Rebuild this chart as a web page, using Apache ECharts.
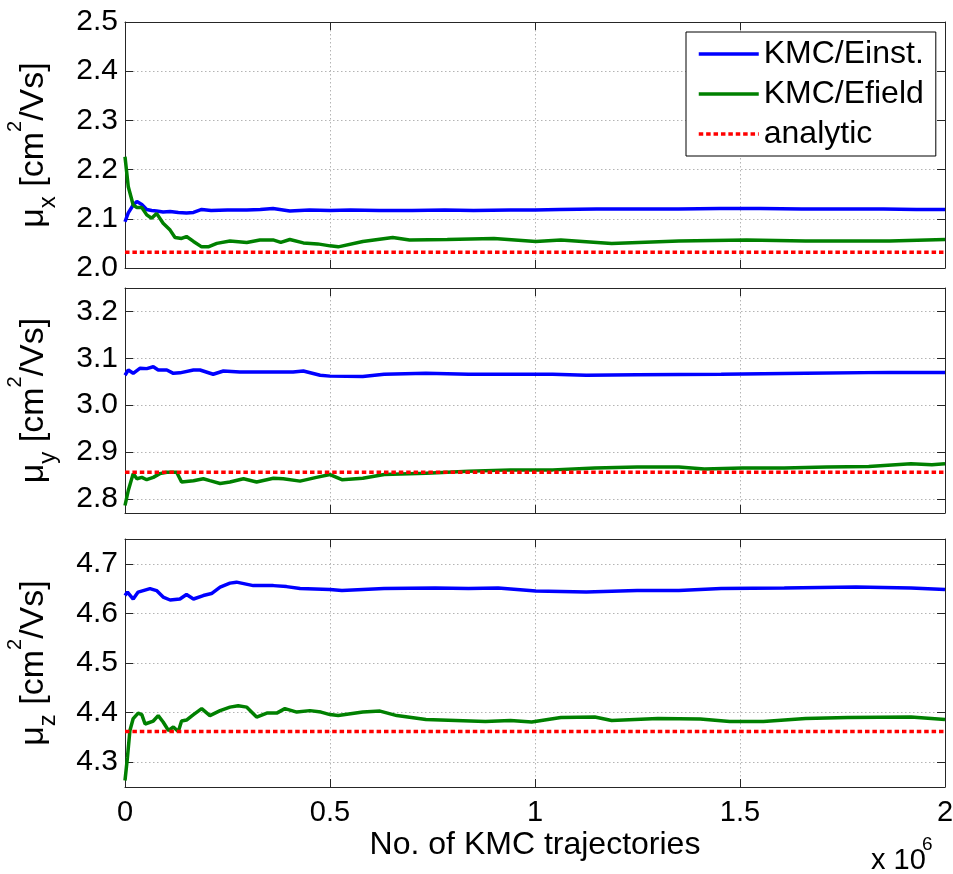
<!DOCTYPE html>
<html>
<head>
<meta charset="utf-8">
<script src="https://cdn.jsdelivr.net/npm/echarts@6/dist/echarts.min.js"></script>
<style>
  html, body { margin: 0; padding: 0; background: #fff; }
  #chart { width: 953px; height: 874px; }
</style>
</head>
<body>
<div id="chart"></div>
<script>
// x values are in units of 10^6 KMC trajectories
const seriesNames = ['KMC/Einst.', 'KMC/Efield', 'analytic'];

// --- mu_x panel ---
const xEinstX = [0, 0.008, 0.02, 0.029, 0.041, 0.053, 0.065, 0.077, 0.093, 0.11,
  0.13, 0.15, 0.167, 0.187, 0.21, 0.25, 0.297, 0.33, 0.361, 0.402,
  0.45, 0.5, 0.55, 0.62, 0.7, 0.78, 0.85, 0.94, 1.0, 1.06,
  1.15, 1.25, 1.35, 1.45, 1.55, 1.65, 1.75, 1.85, 1.93, 2.0];
const muXEinst = [2.094, 2.112, 2.128, 2.135, 2.129, 2.119, 2.117, 2.116, 2.114, 2.115,
  2.113, 2.112, 2.113, 2.119, 2.117, 2.118, 2.118, 2.119, 2.121, 2.116,
  2.118, 2.117, 2.118, 2.117, 2.117, 2.118, 2.117, 2.118, 2.118, 2.119,
  2.12, 2.12, 2.12, 2.121, 2.121, 2.12, 2.12, 2.12, 2.119, 2.119];
const xEfieldX = [0, 0.008, 0.02, 0.029, 0.041, 0.053, 0.065, 0.077, 0.093, 0.11,
  0.122, 0.138, 0.15, 0.167, 0.187, 0.203, 0.224, 0.256, 0.297, 0.329,
  0.361, 0.38, 0.402, 0.435, 0.47, 0.5, 0.52, 0.58, 0.653, 0.694,
  0.786, 0.9, 1.002, 1.063, 1.187, 1.351, 1.516, 1.66, 1.865, 2.0];
const muXEfield = [2.226, 2.165, 2.128, 2.123, 2.123, 2.108, 2.101, 2.111, 2.091, 2.077,
  2.062, 2.060, 2.064, 2.054, 2.043, 2.043, 2.050, 2.055, 2.052, 2.057,
  2.057, 2.052, 2.058, 2.051, 2.049, 2.045, 2.043, 2.054, 2.062, 2.057,
  2.058, 2.060, 2.054, 2.057, 2.050, 2.055, 2.057, 2.055, 2.055, 2.058];
const muXAnalytic = 2.032;

// --- mu_y panel ---
const yEinstX = [0, 0.008, 0.02, 0.037, 0.053, 0.069, 0.081, 0.102, 0.118, 0.134,
  0.167, 0.183, 0.215, 0.24, 0.28, 0.346, 0.41, 0.435, 0.476, 0.5,
  0.58, 0.632, 0.734, 0.838, 0.94, 1.043, 1.125, 1.249, 1.454, 1.66,
  1.865, 2.0];
const muYEinst = [3.064, 3.075, 3.068, 3.079, 3.078, 3.082, 3.075, 3.075, 3.068, 3.069,
  3.075, 3.075, 3.066, 3.073, 3.071, 3.071, 3.071, 3.073, 3.064, 3.062,
  3.061, 3.066, 3.068, 3.066, 3.066, 3.066, 3.064, 3.065, 3.066, 3.068,
  3.070, 3.070];
const yEfieldX = [0, 0.008, 0.02, 0.029, 0.041, 0.053, 0.069, 0.085, 0.102, 0.126,
  0.138, 0.167, 0.191, 0.207, 0.232, 0.256, 0.289, 0.321, 0.362, 0.386,
  0.427, 0.467, 0.5, 0.529, 0.58, 0.632, 0.734, 0.838, 0.94, 1.043,
  1.146, 1.249, 1.351, 1.413, 1.506, 1.608, 1.711, 1.814, 1.917, 1.968,
  2.0];
const muYEfield = [2.786, 2.818, 2.854, 2.843, 2.846, 2.841, 2.846, 2.854, 2.857, 2.857,
  2.836, 2.839, 2.843, 2.839, 2.833, 2.836, 2.843, 2.836, 2.844, 2.843,
  2.838, 2.846, 2.852, 2.841, 2.844, 2.852, 2.855, 2.859, 2.862, 2.862,
  2.866, 2.868, 2.868, 2.864, 2.866, 2.866, 2.868, 2.869, 2.875, 2.873,
  2.875];
const muYAnalytic = 2.857;

// --- mu_z panel ---
const zEinstX = [0, 0.006, 0.02, 0.032, 0.061, 0.077, 0.093, 0.11, 0.134, 0.15,
  0.167, 0.191, 0.211, 0.232, 0.256, 0.272, 0.313, 0.362, 0.394, 0.427,
  0.5, 0.529, 0.632, 0.756, 0.838, 0.91, 1.002, 1.125, 1.249, 1.351,
  1.454, 1.608, 1.783, 1.917, 2.0];
const muZEinst = [4.636, 4.643, 4.629, 4.643, 4.650, 4.646, 4.633, 4.627, 4.629, 4.638,
  4.629, 4.636, 4.640, 4.653, 4.661, 4.663, 4.656, 4.656, 4.654, 4.650,
  4.648, 4.646, 4.650, 4.651, 4.650, 4.651, 4.645, 4.643, 4.646, 4.646,
  4.650, 4.651, 4.653, 4.651, 4.648];
const zEfieldX = [0, 0.006, 0.012, 0.02, 0.032, 0.041, 0.049, 0.069, 0.081, 0.093,
  0.106, 0.118, 0.13, 0.138, 0.15, 0.167, 0.187, 0.207, 0.232, 0.256,
  0.276, 0.297, 0.321, 0.346, 0.37, 0.39, 0.419, 0.451, 0.478, 0.5,
  0.52, 0.58, 0.622, 0.663, 0.734, 0.879, 0.94, 0.992, 1.063, 1.146,
  1.187, 1.3, 1.403, 1.475, 1.557, 1.66, 1.762, 1.917, 2.0];
const muZEfield = [4.263, 4.310, 4.364, 4.388, 4.399, 4.396, 4.377, 4.383, 4.394, 4.381,
  4.364, 4.371, 4.362, 4.383, 4.385, 4.396, 4.408, 4.394, 4.404, 4.411,
  4.414, 4.411, 4.391, 4.399, 4.399, 4.408, 4.401, 4.404, 4.401, 4.396,
  4.394, 4.401, 4.403, 4.394, 4.386, 4.382, 4.384, 4.381, 4.390, 4.391,
  4.384, 4.388, 4.387, 4.382, 4.382, 4.388, 4.390, 4.391, 4.386];
const muZAnalytic = 4.362;

// axis ranges and tick labels
const xRange = [0, 2];
const xTickStep = 0.5;
const yRanges = [[2.0, 2.5], [2.77, 3.25], [4.25, 4.75]];
const yTicks = [
  [2.0, 2.1, 2.2, 2.3, 2.4, 2.5],
  [2.8, 2.9, 3.0, 3.1, 3.2],
  [4.3, 4.4, 4.5, 4.6, 4.7]
];
const ySubscripts = ['x', 'y', 'z'];
const xAxisTitle = 'No. of KMC trajectories';

const FONT = '"Liberation Sans", Arial, Helvetica, sans-serif';
const FRAME = '#262626';
const COLORS = ['#0000ff', '#008000', '#ff0000'];

const panels = [
  { einst: [xEinstX, muXEinst], efield: [xEfieldX, muXEfield], analytic: muXAnalytic },
  { einst: [yEinstX, muYEinst], efield: [yEfieldX, muYEfield], analytic: muYAnalytic },
  { einst: [zEinstX, muZEinst], efield: [zEfieldX, muZEfield], analytic: muZAnalytic }
];

// three stacked plot boxes; fixed placement, labels may sit outside
const grids = [
  { left: 125, right: 8, top: 22, height: 246, outerBoundsMode: 'none', containLabel: false },
  { left: 125, right: 8, top: 288, height: 225, outerBoundsMode: 'none', containLabel: false },
  { left: 125, right: 8, top: 539, height: 248, outerBoundsMode: 'none', containLabel: false }
];

const pair = (xs, ys) => xs.map((x, i) => [x, ys[i]]);

const tickStyle = { show: true, inside: true, length: 8, lineStyle: { color: FRAME, width: 1 } };
const lineAxis = { show: true, onZero: false, lineStyle: { color: FRAME, width: 1 } };
const gridLine = { show: true, lineStyle: { color: '#b4b4b4', width: 1, type: [1.5, 2.5] } };

const xAxes = [];
const yAxes = [];
const series = [];

panels.forEach((p, i) => {
  const last = i === panels.length - 1;
  xAxes.push({
    type: 'value', gridIndex: i, position: 'bottom',
    min: xRange[0], max: xRange[1], interval: xTickStep,
    axisLine: lineAxis, axisTick: tickStyle, splitLine: gridLine,
    axisLabel: { show: last, fontFamily: FONT, fontSize: 29, color: '#000', margin: 11 },
    name: last ? xAxisTitle : '',
    nameLocation: 'middle', nameGap: 42,
    nameTextStyle: { fontFamily: FONT, fontSize: 32, color: '#000' }
  });
  xAxes.push({
    type: 'value', gridIndex: i, position: 'top',
    min: xRange[0], max: xRange[1], interval: xTickStep,
    axisLine: lineAxis, axisTick: tickStyle, splitLine: { show: false },
    axisLabel: { show: false }
  });
  yAxes.push({
    type: 'value', gridIndex: i, position: 'left',
    min: yRanges[i][0], max: yRanges[i][1],
    axisLine: lineAxis,
    axisTick: Object.assign({}, tickStyle, { customValues: yTicks[i] }),
    splitLine: gridLine,
    axisLabel: {
      customValues: yTicks[i],
      fontFamily: FONT, fontSize: 30, color: '#000', margin: 7,
      formatter: v => v.toFixed(1)
    },
    name: '{m|μ}{s|' + ySubscripts[i] + '}{m| [cm}{p|2}{m|/Vs]}',
    nameLocation: 'middle', nameRotate: 90, nameGap: 62,
    nameTextStyle: {
      fontFamily: FONT, fontSize: 34, color: '#000',
      rich: {
        m: { fontFamily: FONT, fontSize: 34, lineHeight: 58, color: '#000' },
        s: { fontFamily: FONT, fontSize: 24, lineHeight: 24, verticalAlign: 'bottom', padding: [0, 0, 3, 0], color: '#000' },
        p: { fontFamily: FONT, fontSize: 20, lineHeight: 20, verticalAlign: 'top', color: '#000' }
      }
    }
  });
  yAxes.push({
    type: 'value', gridIndex: i, position: 'right',
    min: yRanges[i][0], max: yRanges[i][1],
    axisLine: lineAxis,
    axisTick: Object.assign({}, tickStyle, { customValues: yTicks[i] }),
    splitLine: { show: false },
    axisLabel: { show: false, customValues: yTicks[i] }
  });

  const base = {
    type: 'line', xAxisIndex: 2 * i, yAxisIndex: 2 * i,
    symbol: 'none', showSymbol: false, animation: false, silent: true
  };
  series.push(Object.assign({}, base, {
    name: seriesNames[0], data: pair(p.einst[0], p.einst[1]),
    lineStyle: { color: COLORS[0], width: 3.5 }, itemStyle: { color: COLORS[0] }
  }));
  series.push(Object.assign({}, base, {
    name: seriesNames[1], data: pair(p.efield[0], p.efield[1]),
    lineStyle: { color: COLORS[1], width: 3.5 }, itemStyle: { color: COLORS[1] }
  }));
  series.push(Object.assign({}, base, {
    name: seriesNames[2], data: [[xRange[0], p.analytic], [xRange[1], p.analytic]],
    lineStyle: { color: COLORS[2], width: 3.5, type: [4.5, 2.9] }, itemStyle: { color: COLORS[2] }
  }));
});

const chart = echarts.init(document.getElementById('chart'), null, { renderer: 'canvas' });
chart.setOption({
  backgroundColor: '#ffffff',
  animation: false,
  grid: grids,
  xAxis: xAxes,
  yAxis: yAxes,
  series: series,
  legend: {
    data: seriesNames,
    orient: 'vertical',
    left: 686, top: 32,
    padding: [6, 12, 6, 11],
    itemGap: 8,
    itemWidth: 60, itemHeight: 14,
    selectedMode: false,
    itemStyle: { opacity: 0 },
    lineStyle: { width: 3.5 },
    backgroundColor: '#ffffff',
    borderColor: '#000000', borderWidth: 1, borderRadius: 0,
    textStyle: { fontFamily: FONT, fontSize: 32, color: '#000' }
  },
  graphic: [
    { type: 'text', left: 871, top: 846, style: { text: 'x 10', font: '29px ' + FONT, fill: '#000' } },
    { type: 'text', left: 922, top: 835, style: { text: '6', font: '19px ' + FONT, fill: '#000' } }
  ]
});
</script>
</body>
</html>
